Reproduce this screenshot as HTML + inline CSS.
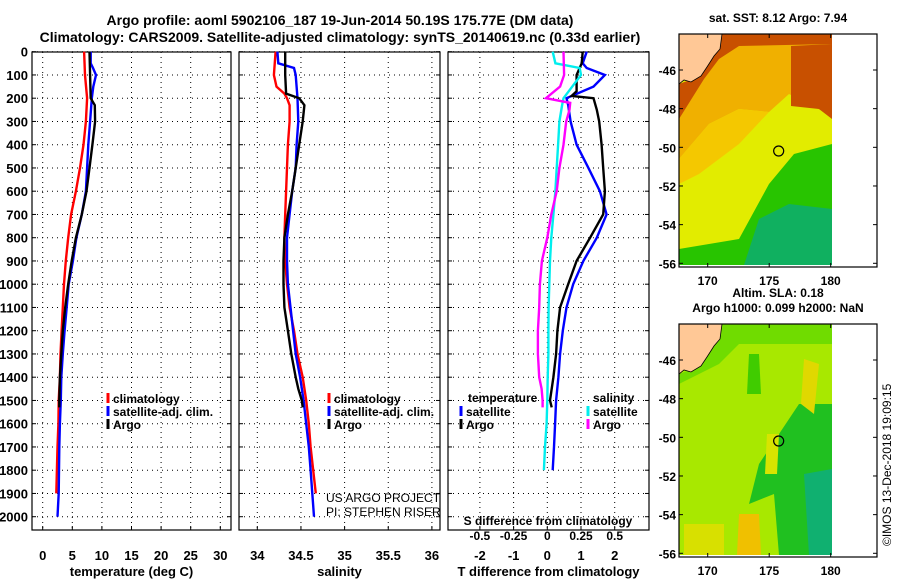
<!DOCTYPE html>
<html><head><meta charset="utf-8"><style>
body{margin:0;background:#fff}
svg{display:block}
text{font-family:"Liberation Sans",sans-serif;font-weight:bold;fill:#000}
</style></head><body>
<svg id="chart" width="900" height="580" viewBox="0 0 900 580" xmlns="http://www.w3.org/2000/svg">
<text x="340" y="25" font-size="14" text-anchor="middle">Argo profile: aoml 5902106_187 19-Jun-2014 50.19S 175.77E (DM data)</text>
<text x="340" y="42" font-size="14" text-anchor="middle">Climatology: CARS2009. Satellite-adjusted climatology: synTS_20140619.nc (0.33d earlier)</text>
<g id="plots"></g>
<g id="maps"></g>
</svg>
<script>
const depthTicks=[0,100,200,300,400,500,600,700,800,900,1000,1100,1200,1300,1400,1500,1600,1700,1800,1900,2000];
const tempTicks=[0,5,10,15,20,25,30];
const salTicks=[34,34.5,35,35.5,36];
const tdTicks=[-2,-1,0,1,2];
const sdTicks=[-0.5,-0.25,0,0.25,0.5];
const sdTickLabels=["-0.5","-0.25","0","0.25","0.5"];
const tempClimD=[0,100,200,300,400,500,600,700,800,900,1000,1100,1200,1300,1400,1500,1600,1700,1800,1900];
const tempClim=[7.0,7.15,7.5,7.3,6.9,6.3,5.6,4.8,4.3,3.9,3.6,3.4,3.2,3.0,2.9,2.7,2.65,2.5,2.4,2.3];
const tempSatD=[0,50,70,100,150,200,300,400,500,600,700,800,900,1000,1100,1200,1300,1400,1500,1600,1700,1800,1900,2000];
const tempSat=[8.1,8.1,8.5,9.0,8.55,8.3,8.0,7.7,7.5,7.3,6.6,5.7,5.1,4.4,4.05,3.7,3.4,3.15,3.05,2.9,2.8,2.75,2.7,2.5];
const tempArgoD=[0,100,200,230,300,400,500,600,700,800,900,1000,1100,1200,1300,1400,1500,1530];
const tempArgo=[7.9,8.0,8.1,8.8,8.85,8.4,7.9,7.4,6.6,5.6,4.9,4.3,3.8,3.4,3.15,2.9,2.8,2.8];
const salClimD=[0,100,150,180,200,230,300,400,500,600,700,800,900,1000,1100,1200,1300,1400,1500,1600,1700,1800,1900];
const salClim=[34.21,34.19,34.22,34.31,34.34,34.37,34.37,34.35,34.34,34.33,34.32,34.31,34.32,34.34,34.37,34.42,34.46,34.52,34.56,34.59,34.61,34.64,34.67];
const salSatD=[0,50,70,100,200,300,400,500,600,700,800,900,1000,1100,1200,1300,1400,1500,1600,1700,1800,1900,2000];
const salSat=[34.23,34.24,34.42,34.44,34.46,34.47,34.45,34.44,34.40,34.37,34.34,34.34,34.35,34.38,34.41,34.44,34.49,34.53,34.56,34.59,34.61,34.63,34.65];
const salArgoD=[0,100,180,200,230,300,400,500,600,700,800,900,1000,1100,1200,1300,1400,1450,1500,1530];
const salArgo=[34.32,34.32,34.33,34.48,34.54,34.52,34.48,34.44,34.40,34.35,34.31,34.30,34.30,34.31,34.35,34.39,34.44,34.47,34.51,34.52];
const tdSatD=[0,50,70,100,150,200,230,300,400,500,600,700,800,900,1000,1100,1200,1300,1400,1500,1600,1700,1800];
const tdSat=[1.17,1.05,1.17,1.71,1.37,0.57,0.62,0.69,0.87,1.22,1.56,1.76,1.47,1.07,0.77,0.57,0.46,0.38,0.33,0.26,0.23,0.2,0.16];
const tdArgoD=[0,50,100,170,190,200,250,300,400,500,600,700,800,900,1000,1100,1200,1300,1400,1500,1530];
const tdArgo=[1.05,1.02,0.87,0.87,0.72,1.37,1.47,1.54,1.61,1.66,1.71,1.66,1.27,0.87,0.62,0.38,0.3,0.26,0.18,0.08,0.13];
const sdSatD=[0,50,70,100,200,230,300,400,500,600,700,800,900,1000,1100,1200,1300,1400,1500,1600,1700,1800];
const sdSat=[0.04,0.06,0.24,0.25,0.12,0.11,0.09,0.08,0.07,0.06,0.045,0.03,0.02,0.015,0.01,0.008,0.008,0.003,0,-0.005,-0.017,-0.025];
const sdArgoD=[0,100,150,200,220,250,300,400,500,600,700,800,900,1000,1100,1200,1300,1400,1450,1500,1530];
const sdArgo=[0.12,0.125,0.095,-0.01,0.17,0.165,0.14,0.12,0.09,0.07,0.03,0,-0.04,-0.055,-0.06,-0.07,-0.07,-0.06,-0.042,-0.035,-0.035];

const NS="http://www.w3.org/2000/svg";
const plots=document.getElementById('plots');
function mk(tag,attrs,parent){const e=document.createElementNS(NS,tag);for(const k in attrs)e.setAttribute(k,attrs[k]);(parent||plots).appendChild(e);return e;}
const yD=d=>51.7+d*0.2325;
const PT=52,PB=530;
const xT=t=>42.7+t*5.92;
const xS=s=>257.3+(s-34)*87.3;
const xTD=t=>547.3+t*33.7;
const xSD=s=>547.3+s*134.8;

function panel(name,L,R,xTicks,xf,labels,xTitle){
  const g=mk('g',{});
  
  
  mk('rect',{x:L,y:PT,width:R-L,height:PB-PT,fill:'#fff',stroke:'#000','stroke-width':1.2},g);
  depthTicks.forEach(d=>{mk('line',{x1:L,x2:R,y1:yD(d),y2:yD(d),stroke:'#000','stroke-dasharray':'1 4','stroke-width':1},g);
    mk('line',{x1:L,x2:L+4,y1:yD(d),y2:yD(d),stroke:'#000'},g);mk('line',{x1:R-4,x2:R,y1:yD(d),y2:yD(d),stroke:'#000'},g);});
  xTicks.forEach((t,i)=>{const x=xf(t);
    mk('line',{x1:x,x2:x,y1:PT,y2:PB,stroke:'#000','stroke-dasharray':'1 4'},g);
    mk('line',{x1:x,x2:x,y1:PB-4,y2:PB,stroke:'#000'},g);
    const tx=mk('text',{x:x,y:560,'font-size':13,'text-anchor':'middle'},g);tx.textContent=labels?labels[i]:String(t);
    
    });
  const tt=mk('text',{x:(L+R)/2,y:576,'font-size':13,'text-anchor':'middle'},g);tt.textContent=xTitle;
  
  
  return g;
}
function line(g,ds,vs,xf,col,name){
  const pts=ds.map((d,i)=>xf(vs[i]).toFixed(1)+','+yD(d).toFixed(1)).join(' ');
  const p=mk('polyline',{points:pts,fill:'none',stroke:col,'stroke-width':2.4},g);
  
  
}
function legend(g,x,y,items){
  items.forEach((it,i)=>{mk('line',{x1:x,x2:x,y1:y+i*13-10,y2:y+i*13,stroke:it[1],'stroke-width':3},g);
    const t=mk('text',{x:x+5,y:y+i*13,'font-size':12},g);t.textContent=it[0];
    
    });
}
depthTicks.forEach(d=>{const t=mk('text',{x:28,y:yD(d)+5,'font-size':13,'text-anchor':'end'});t.textContent=String(d);
  
  });

const g1=panel('temperature-panel',32,231,tempTicks,xT,null,'temperature (deg C)');
line(g1,tempClimD,tempClim,xT,'#f00','temp-climatology-line');
line(g1,tempSatD,tempSat,xT,'#00f','temp-satellite-line');
line(g1,tempArgoD,tempArgo,xT,'#000','temp-argo-line');
legend(g1,108,403,[['climatology','#f00'],['satellite-adj. clim.','#00f'],['Argo','#000']]);

const g2=panel('salinity-panel',239,440,salTicks,xS,null,'salinity');
line(g2,salClimD,salClim,xS,'#f00','sal-climatology-line');
line(g2,salSatD,salSat,xS,'#00f','sal-satellite-line');
line(g2,salArgoD,salArgo,xS,'#000','sal-argo-line');
legend(g2,329,403,[['climatology','#f00'],['satellite-adj. clim.','#00f'],['Argo','#000']]);
[['US ARGO PROJECT',502],['PI: STEPHEN RISER',516]].forEach(a=>{const t=mk('text',{x:326,y:a[1],'font-size':12,style:'font-weight:normal'},g2);t.textContent=a[0];
  
  });

const g3=panel('difference-panel',448,649,tdTicks,xTD,null,'T difference from climatology');
sdTicks.forEach((s,i)=>{const t=mk('text',{x:xSD(s),y:540,'font-size':12,'text-anchor':'middle'},g3);t.textContent=sdTickLabels[i];
  
  });
{const t=mk('text',{x:548,y:525,'font-size':12,'text-anchor':'middle'},g3);t.textContent='S difference from climatology';
  
  }
line(g3,tdSatD,tdSat,xTD,'#00f','tdiff-satellite-line');
line(g3,tdArgoD,tdArgo,xTD,'#000','tdiff-argo-line');
line(g3,sdSatD,sdSat,xSD,'#0ee','sdiff-satellite-line');
line(g3,sdArgoD,sdArgo,xSD,'#f0f','sdiff-argo-line');
{const t=mk('text',{x:468,y:402,'font-size':12},g3);t.textContent='temperature';
 
 
 const u=mk('text',{x:593,y:402,'font-size':12},g3);u.textContent='salinity';
 
 }
legend(g3,461,416,[['satellite','#00f'],['Argo','#000']]);
legend(g3,588,416,[['satellite','#0ee'],['Argo','#f0f']]);

const maps=document.getElementById('maps');
function mapPanel(name,top,title,zones){
  const g=mk('g',{},maps);
  
  
  const lx=l=>707.7+(l-170)*12.3, ly=l=>top+36+(-46-l)*19.33;
  mk('rect',{x:679,y:top,width:153,height:231,fill:zones[0]},g);
  zones[1].forEach(z=>mk('polygon',{points:z[0].map(p=>(679+p[0])+','+(top+p[1])).join(' '),fill:z[1]},g));
  mk('polygon',{points:[[0,0],[43,0],[41,15],[35,22],[28,33],[22,42],[12,48],[5,46],[0,50]].map(p=>(679+p[0])+','+(top+p[1])).join(' '),fill:'#ffc896',stroke:'#000','stroke-width':0.8},g);
  mk('rect',{x:679,y:top,width:198,height:233,fill:'none',stroke:'#000','stroke-width':1.2},g);
  [-46,-48,-50,-52,-54,-56].forEach(l=>{const y=ly(l);mk('line',{x1:679,x2:683,y1:y,y2:y,stroke:'#000'},g);mk('line',{x1:873,x2:877,y1:y,y2:y,stroke:'#000'},g);
    const t=mk('text',{x:676,y:y+5,'font-size':12,'text-anchor':'end'},g);t.textContent=String(l);
    
    });
  [170,175,180].forEach(l=>{const x=lx(l);mk('line',{x1:x,x2:x,y1:top+229,y2:top+233,stroke:'#000'},g);mk('line',{x1:x,x2:x,y1:top,y2:top+4,stroke:'#000'},g);
    const t=mk('text',{x:x,y:top+251,'font-size':12,'text-anchor':'middle'},g);t.textContent=String(l);
    
    });
  const c=mk('circle',{cx:lx(175.77),cy:ly(-50.19),r:5,fill:'none',stroke:'#000','stroke-width':1.2},g);
  
  
  title.forEach((s,i)=>{const t=mk('text',{x:778,y:top-12-(title.length-1-i)*15,'font-size':12,'text-anchor':'middle'},g);t.textContent=s;
    
    });
}
mapPanel('sst-map',34,['sat. SST: 8.12 Argo: 7.94'],['#e2ec00',[
  [[[43,0],[153,0],[153,82],[110,60],[90,78],[60,75],[30,90],[0,125],[0,50],[22,42],[35,22]],'#f0b000'],
  [[[0,125],[30,90],[60,75],[90,78],[60,110],[20,140],[0,150]],'#f4c800'],
  [[[43,0],[153,0],[153,10],[60,12],[40,25],[25,45],[0,85],[0,50],[22,42]],'#c85000'],
  [[[112,12],[153,10],[153,85],[140,75],[112,72]],'#c85000'],
  [[[115,120],[153,110],[153,231],[0,231],[0,215],[60,205],[90,150]],'#28c400'],
  [[[80,185],[110,170],[153,175],[153,231],[65,231]],'#10b060']]]);
mapPanel('sla-map',324,['Altim. SLA: 0.18','Argo h1000: 0.099 h2000: NaN'],['#a8e800',[
  [[[43,0],[153,0],[153,20],[60,20],[40,40],[20,50],[0,60],[0,50],[22,42],[35,22]],'#70dc00'],
  [[[70,30],[80,30],[82,70],[68,70]],'#40cc00'],
  [[[120,80],[153,80],[153,231],[100,231],[95,170],[70,180],[80,140]],'#20c020'],
  [[[125,150],[153,145],[153,231],[130,231]],'#10b070'],
  [[[125,35],[140,40],[135,90],[122,80]],'#e0d800'],
  [[[60,190],[80,190],[82,231],[58,231]],'#f0c000'],
  [[[5,200],[45,200],[45,231],[5,231]],'#d8e000'],
  [[[88,110],[100,110],[98,150],[86,150]],'#d8e400']]]);
{const t=mk('text',{x:0,y:0,'font-size':12,transform:'translate(891,546) rotate(-90)',style:'font-weight:normal'},maps);t.textContent='©IMOS 13-Dec-2018 19:09:15';
 
 }
</script>
</body></html>
